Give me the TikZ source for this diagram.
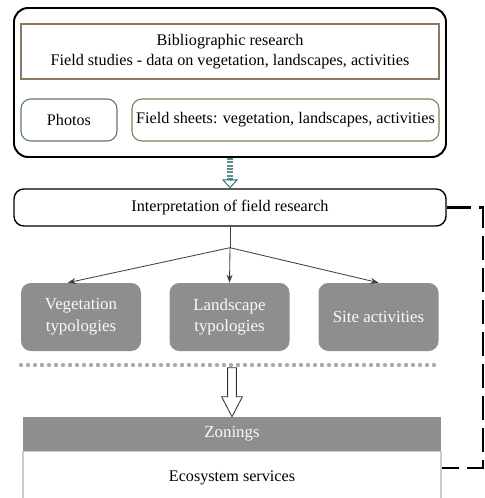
\documentclass[tikz,border=0pt]{standalone}
\usepackage{fontspec}
\setmainfont{Liberation Serif}
\usetikzlibrary{arrows.meta,positioning,calc}
\definecolor{framebrown}{RGB}{140,123,94}
\definecolor{framegreen}{RGB}{94,122,102}
\definecolor{typegray}{RGB}{142,142,142}
\definecolor{stripeteal}{RGB}{45,115,115}
\begin{document}
\begin{tikzpicture}[>=Stealth,font=\fontsize{11.5}{14.5}\selectfont,x=1.000cm,y=1.000cm,
 outer/.style={draw,line width=1.4pt,rounded corners=10pt,minimum width=10.8cm,minimum height=3.725cm},
 srcbox/.style={draw=framebrown,line width=0.8pt,align=center,inner sep=2pt},
 tagbox/.style={draw,line width=0.8pt,rounded corners=7pt,align=center,inner sep=2pt,minimum height=1.05cm},
 interpbox/.style={draw,line width=1pt,rounded corners=7pt,minimum width=10.8cm,minimum height=0.925cm},
 typebox/.style={fill=typegray,text=gray!5,rounded corners=7pt,align=center,minimum width=3.0cm,minimum height=1.7cm,font=\fontsize{12}{15.5}\selectfont},
 zonhead/.style={fill=typegray,text=gray!5,minimum width=10.45cm,minimum height=0.85cm,inner sep=0pt,font=\fontsize{12}{14}\selectfont},
 ecobox/.style={draw=gray!40,line width=0.8pt,minimum width=10.45cm,minimum height=1.3cm,inner sep=0pt},
 fork/.style={draw=black!75,line width=0.6pt},
 stripes/.style={draw=stripeteal!80,line width=0.15cm,dash pattern=on 1.4pt off 1pt},
 dotrow/.style={draw=gray!65,line width=0.11cm,line cap=round,dash pattern=on 0pt off 0.175cm},
 hollow/.style={draw=black!80,line width=0.6pt,fill=white},
 feedback/.style={draw,line width=1.6pt,dash pattern=on 0.6cm off 0.2cm}]
\useasboundingbox (0,0) rectangle (12.1,-12.45);
\node[outer] (outer) at (5.75,-2.0625) {};
\node[srcbox,minimum width=10.45cm,minimum height=1.375cm] (biblio) at (5.75,-1.2875) {Bibliographic research\\Field studies - data on vegetation, landscapes, activities};
\node[tagbox,draw=framegreen,minimum width=2.4cm] (photos) at (1.725,-3.0) {Photos};
\node[tagbox,draw=framebrown,minimum width=7.675cm] (sheets) at (7.1375,-3.0) {Field sheets: vegetation, landscapes, activities};
\node[interpbox] (interp) at (5.75,-5.1875) {Interpretation of field research};
\node[typebox] (veg) at (2.025,-7.925) {Vegetation\\typologies};
\node[typebox] (land) at (5.7375,-7.925) {Landscape\\typologies};
\node[typebox] (site) at (9.4625,-7.925) {Site activities};
\coordinate (dotl) at (0.525,-9.125);
\coordinate (dotr) at (10.975,-9.125);
\node[zonhead] (zon) at (5.8,-10.85) {Zonings};
\node[ecobox,below=0pt of zon] (eco) {Ecosystem services};
\draw[stripes] (outer.south) -- ++(0,-0.55) coordinate (stripend);
\draw[stripeteal,line width=0.7pt,-{Triangle[open,width=0.4cm,length=0.22cm]}] (stripend) -- (interp.north);
\coordinate[below=0.525 of interp.south] (split);
\draw[fork] (interp.south) -- (split);
\draw[fork,->] (split) -- ([xshift=-0.33cm]veg.north);
\draw[fork,->] (split) -- (land.north);
\draw[fork,->] (split) -- (site.north);
\draw[dotrow] (dotl) -- (dotr);
\draw[hollow] (zon.north) -- ++(-0.26,0.5) -- ++(0.15,0) -- ++(0,0.725) -- ++(0.22,0) -- ++(0,-0.725) -- ++(0.15,0) -- cycle;
\draw[feedback] (interp.east) -- ++(0.9,0) |- ([yshift=0.25cm]eco.east);
\end{tikzpicture}
\end{document}
